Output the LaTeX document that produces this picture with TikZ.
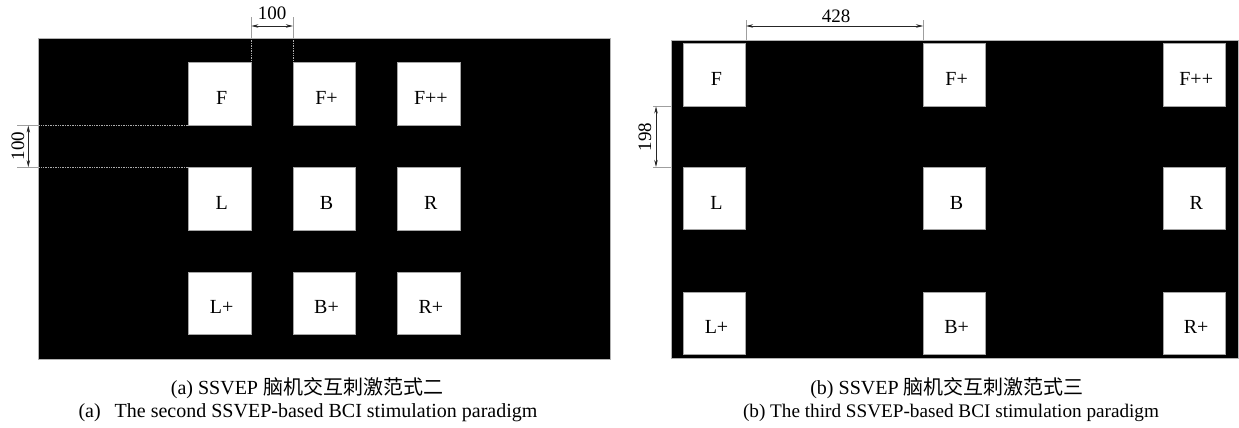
\documentclass[tikz,border=0pt]{standalone}
\usepackage{fontspec}
\setmainfont{Liberation Serif}
\newfontfamily\cjk{Noto Sans CJK SC}
\usetikzlibrary{arrows.meta,calc}
\begin{document}
\begin{tikzpicture}[x=1pt,y=-1pt,
  panel/.style={fill=black, draw=gray!60, line width=0.8pt, inner sep=0pt, anchor=north west},
  sq/.style={fill=white, draw=gray!70, line width=0.8pt, minimum size=62.5pt, inner sep=0pt,
             text height=21pt, text depth=0pt, font=\fontsize{20}{24}\selectfont,
             execute at begin node={\hspace*{4pt}}},
  ext/.style={draw=gray!75, line width=0.7pt},
  extdot/.style={draw=gray!65, line width=0.7pt, densely dotted},
  dimline/.style={draw=black!85, line width=0.6pt, {Stealth[length=7pt,width=3.5pt]}-{Stealth[length=7pt,width=3.5pt]}},
  dimtxt/.style={font=\fontsize{19}{22}\selectfont, inner sep=0pt},
  captxt/.style={font=\fontsize{20}{23}\selectfont, inner sep=0pt}]
\useasboundingbox (0,0) rectangle (1239,428);
\fill[white] (0,0) rectangle (1239,428);

% ---------- panel (a) ----------
\node[panel, minimum width=571.7pt, minimum height=321.6pt] (pa) at (38.3,37.7) {};
\node[sq] (aF)  at (219.7,94)    {F};
\node[sq] (aFp) at (324.5,94)    {F+};
\node[sq] (aFq) at (428.9,94)    {F++};
\node[sq] (aL)  at (219.7,198.7) {L};
\node[sq] (aB)  at (324.5,198.7) {B};
\node[sq] (aR)  at (428.9,198.7) {R};
\node[sq] (aLp) at (219.7,303.2) {L+};
\node[sq] (aBp) at (324.5,303.2) {B+};
\node[sq] (aRp) at (428.9,303.2) {R+};

% top dimension 100
\draw[extdot] (aF.north east) -- (aF.north east |- pa.north);
\draw[ext] (aF.north east |- pa.north) -- (aF.north east |- 0,17);
\draw[extdot] (aFp.north west) -- (aFp.north west |- pa.north);
\draw[ext] (aFp.north west |- pa.north) -- (aFp.north west |- 0,17);
\draw[dimline] (aF.north east |- 0,26) -- (aFp.north west |- 0,26);
\node[dimtxt] (ta) at (272,13) {100};

% left dimension 100
\draw[extdot] (aF.south west) -- (aF.south west -| pa.west);
\draw[ext] (aF.south west -| pa.west) -- (aF.south west -| 17,0);
\draw[extdot] (aL.north west) -- (aL.north west -| pa.west);
\draw[ext] (aL.north west -| pa.west) -- (aL.north west -| 17,0);
\draw[dimline] (aF.south west -| 28.3,0) -- (aL.north west -| 28.3,0);
\node[dimtxt, rotate=90] (tb) at (18,146) {100};

% ---------- panel (b) ----------
\node[panel, minimum width=566.7pt, minimum height=317.7pt] (pb) at (671,40) {};
\node[sq, minimum size=62.4pt] (bF)  at (714.5,74.9)  {F};
\node[sq, minimum size=62.4pt] (bFp) at (954.6,74.9)  {F+};
\node[sq, minimum size=62.4pt] (bFq) at (1194.2,74.9) {F++};
\node[sq, minimum size=62.4pt] (bL)  at (714.5,198.5)  {L};
\node[sq, minimum size=62.4pt] (bB)  at (954.6,198.5)  {B};
\node[sq, minimum size=62.4pt] (bR)  at (1194.2,198.5) {R};
\node[sq, minimum size=62.4pt] (bLp) at (714.5,323.4)  {L+};
\node[sq, minimum size=62.4pt] (bBp) at (954.6,323.4)  {B+};
\node[sq, minimum size=62.4pt] (bRp) at (1194.2,323.4) {R+};

% top dimension 428
\draw[ext] (bF.north east |- pb.north) -- (bF.north east |- 0,20);
\draw[ext] (bFp.north west |- pb.north) -- (bFp.north west |- 0,20);
\draw[dimline] (bF.north east |- 0,26) -- (bFp.north west |- 0,26);
\node[dimtxt] (tc) at (836,16) {428};

% left dimension 198
\draw[ext] (bF.south west -| pb.west) -- (bF.south west -| 653,0);
\draw[ext] (bL.north west -| pb.west) -- (bL.north west -| 653,0);
\draw[dimline] (bF.south west -| 656,0) -- (bL.north west -| 656,0);
\node[dimtxt, rotate=90] (td) at (645,137) {198};

% ---------- captions ----------
\node[captxt] (ca1) at (307,388) {(a) SSVEP {\cjk 脑机交互刺激范式二}};
\node[captxt] (ca2) at (308,413) {(a)\hspace{0.7em}The second SSVEP-based BCI stimulation paradigm};
\node[captxt] (cb1) at (947,388) {(b) SSVEP {\cjk 脑机交互刺激范式三}};
\node[captxt, font=\fontsize{19.2}{22}\selectfont] (cb2) at (951,413) {(b) The third SSVEP-based BCI stimulation paradigm};
\end{tikzpicture}
\end{document}
